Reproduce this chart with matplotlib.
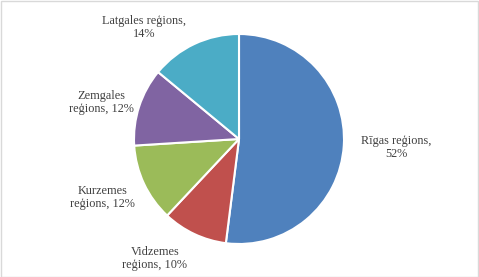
import numpy as np
import matplotlib
matplotlib.use("Agg")
from matplotlib import pyplot as plt
from matplotlib.patches import Rectangle

labels = ["Rīgas reģions,\n52%", "Vidzemes\nreģions, 10%", "Kurzemes\nreģions, 12%",
          "Zemgales\nreģions, 12%", "Latgales reģions,\n14%"]
shares = [52, 10, 12, 12, 14]
colors = ["#4F81BD", "#C0504D", "#9BBB59", "#8064A2", "#4BACC6"]

# label positions in pie-radius units (Excel places them by hand)
labelPos = [(1.50, -0.08), (-0.80, -1.14), (-1.30, -0.56), (-1.31, 0.35), (-0.90, 1.06)]

W, H = 479, 277
cx, cy, r = 239, 139, 105

fig = plt.figure(figsize=(W / 100, H / 100), dpi=100)
fig.patches.append(Rectangle((0.5 / W, 0.5 / H), 1 - 1.5 / W, 1 - 1.5 / H, transform=fig.transFigure,
                             fill=False, edgecolor="#D9D9D9", linewidth=1))

ax = fig.add_axes([(cx - r) / W, (H - cy - r) / H, 2 * r / W, 2 * r / H])
ax.pie(shares, colors=colors, startangle=90, counterclock=False,
       wedgeprops=dict(edgecolor="white", linewidth=1.5))
ax.set_xlim(-1, 1)
ax.set_ylim(-1, 1)
ax.set_aspect("equal")
ax.axis("off")

for text, (x, y) in zip(labels, labelPos):
    ax.text(x, y, text, ha="center", va="center", fontsize=8.8, color="#404040",
            family="Liberation Serif", linespacing=1.1)

fig.savefig("out.png", dpi=100)
